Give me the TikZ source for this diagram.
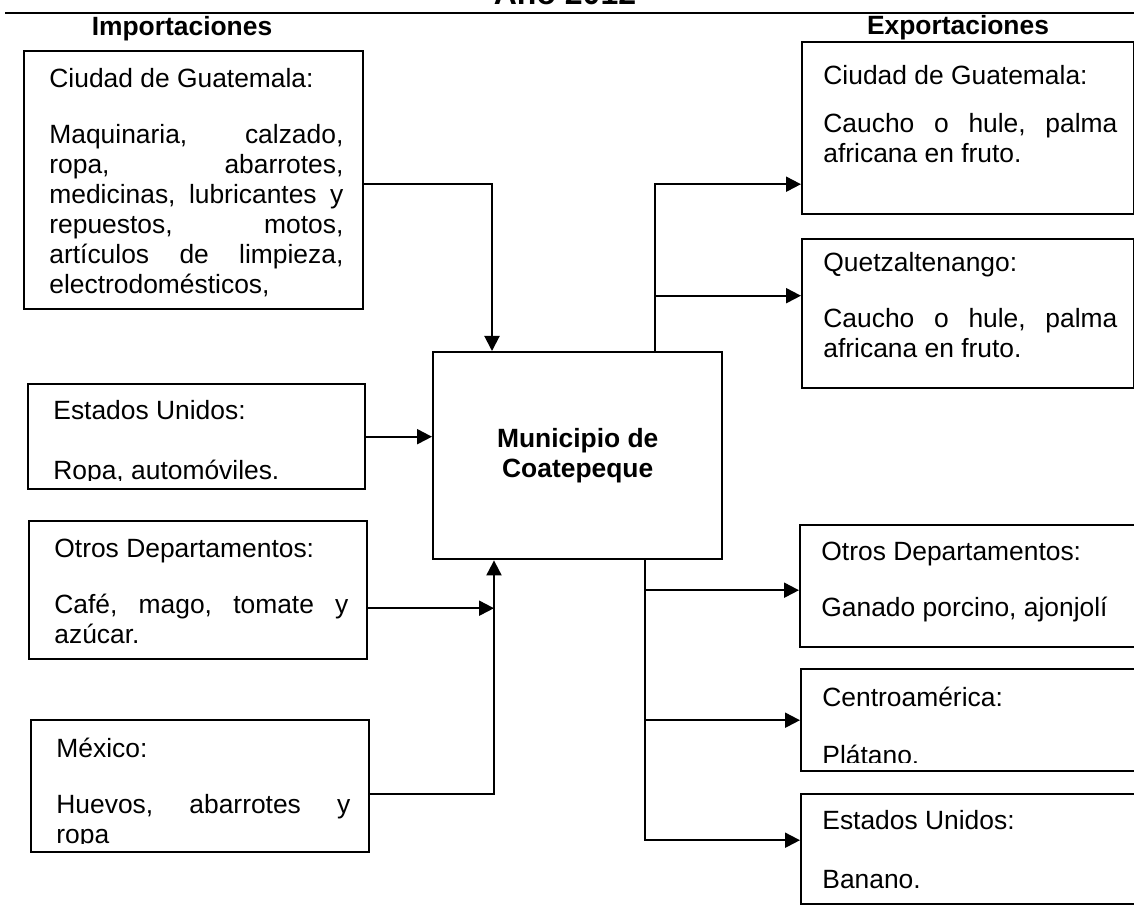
\documentclass[tikz,border=0pt]{standalone}
\usepackage{fontspec}
\setmainfont{Liberation Sans}
\usetikzlibrary{arrows.meta,positioning,calc}
\newcommand{\cuerpo}{\fontsize{13.2}{15}\selectfont}
\tikzset{
  margen/.store in=\margen, margen=12pt,
  arriba/.store in=\arriba, arriba=18pt,
  caja/.style={draw,line width=1.2pt,anchor=north west,inner sep=0pt},
  texto/.style={anchor=base west,inner sep=0pt,minimum width=0pt,minimum height=0pt,
    text width=147pt,align=justify,font=\cuerpo},
  contenido/.style={path picture={
      \clip ([shift={(1pt,-1pt)}]path picture bounding box.north west) rectangle
            ([shift={(-1pt,4.5pt)}]path picture bounding box.south east);
      \node[texto] at ([shift={(\margen,-\arriba)}]path picture bounding box.north west) {#1};}},
  nucleo/.style={draw,line width=1.2pt,anchor=north west,align=center,font=\bfseries\cuerpo},
  encabezado/.style={anchor=base,font=\bfseries\cuerpo},
  titulo/.style={anchor=base,font=\bfseries\fontsize{16}{18}\selectfont},
  flecha/.style={-{Triangle[length=7.5pt,width=7.5pt]},line width=1pt}
}
\begin{document}
\begin{tikzpicture}[x=0.5pt,y=-0.5pt]
\fill[white] (0,0) rectangle (1134,919);
\useasboundingbox (0,0) rectangle (1134,919);
% titulo y encabezados
\node[titulo] (anio) at (565,5) {Año 2012};
\draw[line width=1.4pt] (5,13) -- (1134,13);
\node[encabezado] (imp) at (182,36) {Importaciones};
\node[encabezado] (exp) at (958,35) {Exportaciones};
% importaciones
\node[caja,minimum width=169.5pt,minimum height=129pt,contenido={Ciudad de Guatemala:\\[13pt]
  Maquinaria,\hfill calzado,\\ ropa,\hfill abarrotes,\\ medicinas,\hfill lubricantes\hfill y\\
  repuestos,\hfill motos,\\ artículos\hfill de\hfill limpieza,\\ electrodomésticos,}] (imp1) at (23,50) {};
\node[caja,minimum width=168.5pt,minimum height=52.5pt,arriba=17.5pt,contenido={Estados Unidos:\\[15pt]
  Ropa, automóviles.}] (imp2) at (27,383) {};
\node[caja,minimum width=169pt,minimum height=69pt,contenido={Otros Departamentos:\\[13pt]
  Café,\hfill mago,\hfill tomate\hfill y\\ azúcar.}] (imp3) at (28,520) {};
\node[caja,minimum width=169pt,minimum height=66pt,arriba=18.5pt,contenido={México:\\[13pt]
  Huevos,\hfill abarrotes\hfill y\\ ropa}] (imp4) at (30,719) {};
% municipio
\node[nucleo,minimum width=144.5pt,minimum height=103.5pt] (centro) at (432,351) {Municipio de\\Coatepeque};
% exportaciones
\node[caja,minimum width=166pt,minimum height=86pt,margen=10pt,arriba=21pt,contenido={Ciudad de Guatemala:\\[9pt]
  Caucho\hfill o\hfill hule,\hfill palma\\ africana en fruto.}] (exp1) at (801,41) {};
\node[caja,minimum width=166pt,minimum height=74.5pt,margen=10pt,arriba=16pt,contenido={Quetzaltenango:\\[13pt]
  Caucho\hfill o\hfill hule,\hfill palma\\ africana en fruto.}] (exp2) at (801,238) {};
\node[caja,minimum width=172.5pt,minimum height=61pt,margen=10pt,arriba=17.5pt,contenido={Otros Departamentos:\\[13pt]
  Ganado porcino, ajonjolí}] (exp3) at (799,524) {};
\node[caja,minimum width=172.5pt,minimum height=51pt,margen=10pt,arriba=18.5pt,contenido={Centroamérica:\\[14pt]
  Plátano.}] (exp4) at (800,668) {};
\node[caja,minimum width=172.5pt,minimum height=55pt,margen=10pt,arriba=17.5pt,contenido={Estados Unidos:\\[14.5pt]
  Banano.}] (exp5) at (800,793) {};
% conectores
\coordinate (entA) at ([xshift=30pt]centro.north west);
\coordinate (entB) at ([xshift=31pt]centro.south west);
\coordinate (salA) at ([xshift=-34pt]centro.north east);
\coordinate (salB) at ([xshift=-39pt]centro.south east);
\draw[flecha] ([yshift=-2pt]imp1.east) -| (entA);
\draw[flecha] (imp2.east) -- (imp2.east -| centro.west);
\draw[flecha] ([yshift=-9pt]imp3.east) -- ([yshift=-9pt]imp3.east -| entB);
\draw[flecha] ([yshift=-4pt]imp4.east) -| (entB);
\draw[flecha] (salA) |- ([yshift=-28pt]exp1.west);
\draw[flecha] (salA) |- ([yshift=9pt]exp2.west);
\draw[flecha] (salB) |- ([yshift=-2pt]exp3.west);
\draw[flecha] (salB) |- (exp4.west);
\draw[flecha] (salB) |- ([yshift=4.5pt]exp5.west);
\end{tikzpicture}
\end{document}
